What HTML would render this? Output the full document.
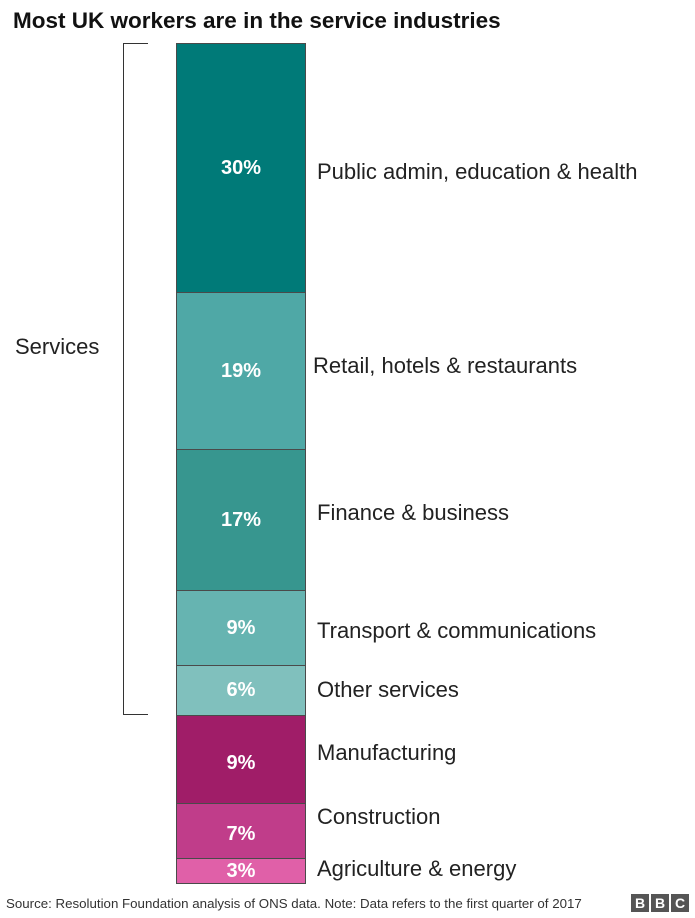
<!DOCTYPE html>
<html><head><style>
body{margin:0;width:695px;height:918px;background:#fff;font-family:"Liberation Sans",Arial,sans-serif;position:relative;overflow:hidden}
.t{position:absolute;left:13px;top:8px;font-size:22.5px;font-weight:bold;color:#111}
.seg{position:absolute;left:176px;width:130px;border:1px solid #4a4a4a;box-sizing:border-box;color:#fff;font-weight:bold;font-size:20px;display:flex;align-items:center;justify-content:center}
.l{position:absolute;font-size:22px;color:#222;white-space:nowrap}
.src{position:absolute;left:6px;top:896px;font-size:13.3px;color:#333;white-space:nowrap}
.bbc{position:absolute;top:894px;width:18px;height:18px;background:#555;color:#fff;font-weight:bold;font-size:14px;text-align:center;line-height:18px}
</style></head><body>
<div class="t">Most UK workers are in the service industries</div>
<div style="position:absolute;left:123px;top:43px;width:25px;height:672px;border:1.5px solid #333;border-right:none;box-sizing:border-box"></div>
<div class="l" style="left:15px;top:334px;font-size:22px">Services</div>
<div class="seg" style="top:43px;height:250px;background:#007a78">30%</div>
<div class="seg" style="top:292px;height:158px;background:#4fa8a6">19%</div>
<div class="seg" style="top:449px;height:142px;background:#37968f">17%</div>
<div class="seg" style="top:590px;height:76px;background:#66b4b1">9%</div>
<div class="seg" style="top:665px;height:51px;background:#80c0bd">6%</div>
<div class="seg" style="top:715px;height:89px;background:#a01d68;padding-top:8px">9%</div>
<div class="seg" style="top:803px;height:56px;background:#c03d8a;padding-top:6px">7%</div>
<div class="seg" style="top:858px;height:26px;background:#e060a8">3%</div>
<div class="l" style="left:317px;top:159px">Public admin, education &amp; health</div>
<div class="l" style="left:313px;top:353px">Retail, hotels &amp; restaurants</div>
<div class="l" style="left:317px;top:500px">Finance &amp; business</div>
<div class="l" style="left:317px;top:618px">Transport &amp; communications</div>
<div class="l" style="left:317px;top:677px">Other services</div>
<div class="l" style="left:317px;top:740px">Manufacturing</div>
<div class="l" style="left:317px;top:804px">Construction</div>
<div class="l" style="left:317px;top:856px">Agriculture &amp; energy</div>
<div class="src">Source: Resolution Foundation analysis of ONS data. Note: Data refers to the first quarter of 2017</div>
<div class="bbc" style="left:631px">B</div><div class="bbc" style="left:651px">B</div><div class="bbc" style="left:671px">C</div>
</body></html>
